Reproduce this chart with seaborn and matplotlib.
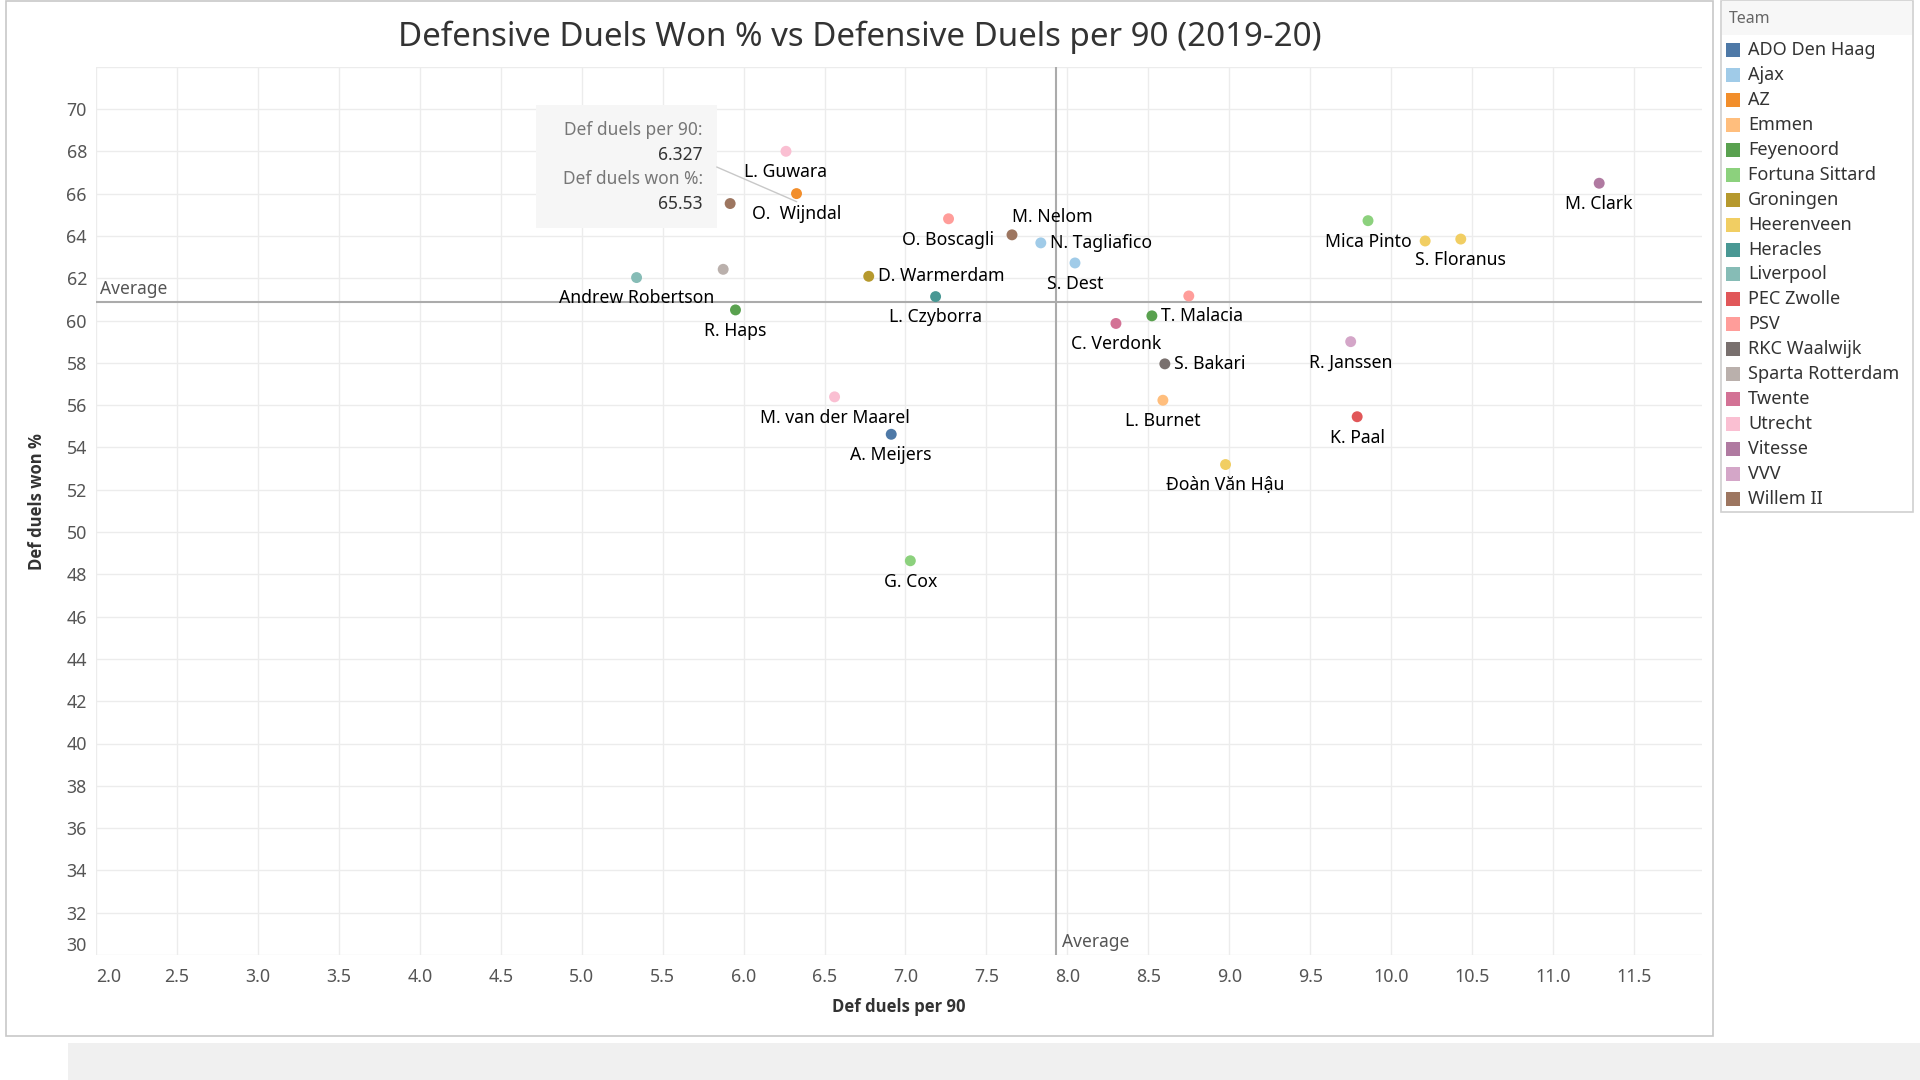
import numpy as np
import pandas as pd
import matplotlib
matplotlib.use("Agg")
import matplotlib.pyplot as plt
from matplotlib.patches import Rectangle
from matplotlib.lines import Line2D
import seaborn as sns

# ---------------- data ----------------
players = ["L. Guwara", "O.  Wijndal", "", "", "Andrew Robertson", "R. Haps",
           "D. Warmerdam", "L. Czyborra", "O. Boscagli", "M. Nelom", "N. Tagliafico",
           "S. Dest", "", "T. Malacia", "C. Verdonk", "S. Bakari", "L. Burnet",
           "Mica Pinto", "", "S. Floranus", "M. Clark", "R. Janssen", "K. Paal",
           "M. van der Maarel", "A. Meijers", "G. Cox", "Đoàn Văn Hậu"]
teams = ["Utrecht", "AZ", "Willem II", "Sparta Rotterdam", "Liverpool", "Feyenoord",
         "Groningen", "Heracles", "PSV", "Willem II", "Ajax",
         "Ajax", "PSV", "Feyenoord", "Twente", "RKC Waalwijk", "Emmen",
         "Fortuna Sittard", "Heerenveen", "Heerenveen", "Vitesse", "VVV", "PEC Zwolle",
         "Utrecht", "ADO Den Haag", "Fortuna Sittard", "Heerenveen"]
def_duels_per90 = [6.262, 6.327, 5.917, 5.874, 5.339, 5.950,
                   6.773, 7.186, 7.266, 7.658, 7.836,
                   8.047, 8.750, 8.522, 8.300, 8.602, 8.590,
                   9.857, 10.21, 10.43, 11.285, 9.750, 9.790,
                   6.562, 6.912, 7.030, 8.977]
def_duels_won = [68.00, 66.00, 65.53, 62.42, 62.03, 60.50,
                 62.09, 61.13, 64.81, 64.05, 63.67,
                 62.72, 61.16, 60.22, 59.86, 57.95, 56.23,
                 64.72, 63.76, 63.85, 66.49, 59.00, 55.45,
                 56.39, 54.62, 48.64, 53.19]
avg_x = 7.93
avg_y = 60.89

team_order = ["ADO Den Haag", "Ajax", "AZ", "Emmen", "Feyenoord", "Fortuna Sittard",
              "Groningen", "Heerenveen", "Heracles", "Liverpool", "PEC Zwolle", "PSV",
              "RKC Waalwijk", "Sparta Rotterdam", "Twente", "Utrecht", "Vitesse", "VVV",
              "Willem II"]
team_colors = ["#4E79A7", "#A0CBE8", "#F28E2B", "#FFBE7D", "#59A14F", "#8CD17D",
               "#B6992D", "#F1CE63", "#499894", "#86BCB6", "#E15759", "#FF9D9A",
               "#79706E", "#BAB0AC", "#D37295", "#FABFD2", "#B07AA1", "#D4A6C8",
               "#9D7660"]

x_ticks = [2.0, 2.5, 3.0, 3.5, 4.0, 4.5, 5.0, 5.5, 6.0, 6.5, 7.0, 7.5,
           8.0, 8.5, 9.0, 9.5, 10.0, 10.5, 11.0, 11.5]
y_ticks = list(range(30, 73, 2))

title = "Defensive Duels Won % vs Defensive Duels per 90 (2019-20)"
tooltip_lines = ["Def duels per 90:", "6.327", "Def duels won %:", "65.53"]

# label placement (style, not data)
label_place = {"D. Warmerdam": "right", "N. Tagliafico": "right", "T. Malacia": "right",
               "S. Bakari": "right", "M. Nelom": "above"}

df = pd.DataFrame({"player": players, "team": teams,
                   "x": def_duels_per90, "y": def_duels_won})
palette = dict(zip(team_order, team_colors))

# ---------------- figure ----------------
sns.set_theme(style="white")
plt.rcParams["font.family"] = ["Noto Sans", "DejaVu Sans"]
BOLD_FAMILY = ["Open Sans", "DejaVu Sans"]

W, H = 1920, 1080
fig = plt.figure(figsize=(19.2, 10.8), dpi=100)
fig.patch.set_facecolor("white")

def fx(px):
    return px / W

def fy(py):
    return 1 - py / H

ax_left, ax_right, ax_top, ax_bottom = 96, 1702, 66.7, 955
ax = fig.add_axes([fx(ax_left), fy(ax_bottom), (ax_right - ax_left) / W, (ax_bottom - ax_top) / H])

sns.scatterplot(data=df, x="x", y="y", hue="team", hue_order=team_order, palette=palette,
                s=62, edgecolor="none", linewidth=0, legend=False, ax=ax, zorder=4)

ax.set_xlim(2.0, 11.92)
ax.set_ylim(30, 72)
ax.set_xticks(x_ticks)
ax.set_xticklabels([f"{v:.1f}" for v in x_ticks])
ax.set_yticks(y_ticks)
ax.set_yticklabels([str(v) if v <= 70 else "" for v in y_ticks])
ax.grid(True, color="#ececec", linewidth=1, zorder=0)
ax.set_axisbelow(True)
for s in ax.spines.values():
    s.set_visible(False)
ax.tick_params(axis="both", length=0, labelsize=12.8, colors="#555555")
ax.tick_params(axis="y", pad=6.5)
ax.tick_params(axis="x", pad=9)
ylab0 = ax.get_yticklabels()[0]
ylab0.set_va("bottom")
xlab0 = ax.get_xticklabels()[0]
xlab0.set_ha("left")

ax.set_xlabel("Def duels per 90", fontsize=12, fontweight="bold", color="#333333",
              family=BOLD_FAMILY)
ax.xaxis.set_label_coords(0.5, -(1007 - ax_bottom) / (ax_bottom - ax_top))
ax.xaxis.label.set_va("center")
ax.set_ylabel("Def duels won %", fontsize=12, fontweight="bold", color="#333333",
              family=BOLD_FAMILY)
ax.yaxis.set_label_coords((37 - ax_left) / (ax_right - ax_left), (ax_bottom - 502) / (ax_bottom - ax_top))
ax.yaxis.label.set_va("center")

# average reference lines
ax.axhline(avg_y, color="#ababab", linewidth=1.5, zorder=2)
ax.axvline(avg_x, color="#ababab", linewidth=1.5, zorder=2)
ax.annotate("Average", (2.0, avg_y), xytext=(3, 9), textcoords="offset points",
            ha="left", va="center", fontsize=12.5, color="#555555")
ax.annotate("Average", (avg_x, 30), xytext=(4, 9.5), textcoords="offset points",
            ha="left", va="center", fontsize=12.5, color="#555555")

# point labels
for name, xv, yv in zip(players, def_duels_per90, def_duels_won):
    if not name:
        continue
    place = label_place.get(name, "below")
    if place == "right":
        kw = dict(xytext=(6.5, 0), ha="left")
    elif place == "above":
        kw = dict(xytext=(0, 13), ha="left")
    else:
        kw = dict(xytext=(0, -15), ha="center")
    ax.annotate(name, (xv, yv), textcoords="offset points", va="center",
                fontsize=12.7, color="#000000", zorder=5, **kw)

# title
fig.text(fx(860), fy(37), title, ha="center", va="center", fontsize=23.8, color="#333333")

# tooltip box
fig.add_artist(Rectangle((fx(536), fy(228)), (716.7 - 536) / W, (228 - 105) / H,
                         transform=fig.transFigure, facecolor="#f6f6f6", edgecolor="none", zorder=3))
tt_y = [130, 155, 179, 204]
tt_col = ["#777777", "#333333", "#777777", "#333333"]
for t, yy, cc in zip(tooltip_lines, tt_y, tt_col):
    fig.text(fx(703), fy(yy), t, ha="right", va="center", fontsize=12.5, color=cc, zorder=4)
fig.add_artist(Line2D([fx(716.7), fx(796.7)], [fy(167), fy(201.7)], transform=fig.transFigure,
                      color="#c8c8c8", linewidth=1, zorder=3))

# outer view border
fig.add_artist(Rectangle((fx(5.5), fy(1036)), (1713 - 5.5) / W, (1036 - 0.5) / H,
                         transform=fig.transFigure, facecolor="none", edgecolor="#c8c8c8",
                         linewidth=1.2, zorder=1))
# bottom toolbar strip
fig.add_artist(Rectangle((fx(68), 0), (W - 68) / W, (1080 - 1043) / H,
                         transform=fig.transFigure, facecolor="#f0f0f0", edgecolor="none", zorder=1))

# legend (manual, Tableau style)
fig.add_artist(Rectangle((fx(1720.5), fy(512)), (1913 - 1720.5) / W, (512 - 0.5) / H,
                         transform=fig.transFigure, facecolor="white", edgecolor="#d0d0d0",
                         linewidth=1.2, zorder=1))
fig.add_artist(Rectangle((fx(1721.5), fy(35)), (1912 - 1721.5) / W, (35 - 1.5) / H,
                         transform=fig.transFigure, facecolor="#f7f7f7", edgecolor="none", zorder=1))
fig.text(fx(1729), fy(19), "Team", ha="left", va="center", fontsize=11.5, color="#666666", zorder=2)
for i, (tname, tcol) in enumerate(zip(team_order, team_colors)):
    cy = 50 + i * 24.94
    fig.add_artist(Rectangle((fx(1726), fy(cy + 7)), 14 / W, 14 / H,
                             transform=fig.transFigure, facecolor=tcol, edgecolor="none", zorder=2))
    fig.text(fx(1748), fy(cy), tname, ha="left", va="center", fontsize=13, color="#333333", zorder=2)

fig.savefig("out.png", dpi=100)
